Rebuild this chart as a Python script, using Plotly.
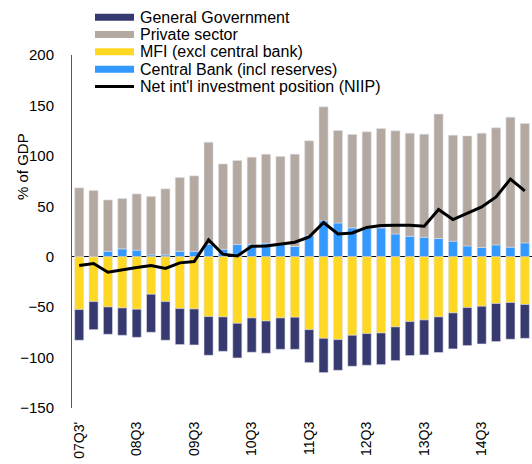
import plotly.graph_objects as go

# ---- data ----
quarters = []
for y in range(7, 16):
    for q in range(1, 5):
        quarters.append(f"{y:02d}Q{q}")
quarters = quarters[2:34]  # 07Q3 .. 15Q2

central_bank = [0, 0, 5.4, 7.8, 6.5, 1.8, 1.8, 5.4, 5.4, 12.1, 7.4, 12.1, 12.4, 13.4, 12.4, 10.1,
                21.3, 35.5, 33.5, 28.6, 28.0, 28.6, 22.6, 20.3, 19.3, 18.0, 15.4, 10.7, 9.1, 11.7, 9.4, 13.7]
private_sector = [68.3, 65.7, 50.9, 49.9, 55.8, 58.0, 65.5, 73.2, 74.8, 101.5, 84.6, 83.3, 86.3, 88.3, 87.0, 91.6,
                  93.6, 113.1, 91.7, 92.6, 95.8, 98.6, 102.2, 102.2, 102.2, 123.4, 105.1, 109.1, 113.4, 116.1, 129.0, 118.4]
mfi = [-52.4, -44.5, -49.8, -50.8, -52.1, -37.2, -44.5, -51.4, -51.8, -59.4, -59.7, -66.0, -60.7, -63.7, -60.7, -60.0,
       -72.3, -80.9, -82.2, -77.9, -76.2, -75.6, -69.6, -64.3, -62.7, -59.7, -55.7, -50.4, -49.1, -46.4, -45.4, -47.4]
general_gov = [-30.4, -27.8, -27.1, -27.1, -27.8, -37.7, -38.3, -35.7, -35.7, -38.3, -34.1, -34.4, -34.0, -32.0, -31.1, -31.8,
               -32.7, -34.0, -30.4, -30.7, -31.4, -31.4, -33.4, -33.7, -34.7, -35.3, -35.7, -37.7, -37.4, -37.7, -36.4, -33.5]
niip = [-8.8, -6.8, -15.4, -12.7, -10.7, -8.8, -11.7, -6.1, -4.8, 16.7, 2.5, 0.8, 10.4, 10.7, 12.7, 14.4,
        19.7, 33.9, 22.6, 23.6, 29.0, 31.0, 31.2, 31.2, 30.3, 46.8, 36.9, 43.5, 49.4, 59.3, 76.9, 65.3]

tick_vals = quarters[0::4]
tick_text = ["07Q3'", "08Q3", "09Q3", "10Q3", "11Q3", "12Q3", "13Q3", "14Q3"]

legend_names = ["General Government", "Private sector", "MFI (excl central bank)",
                "Central Bank (incl reserves)", "Net int'l investment position (NIIP)"]

C_GG = "#363A70"
C_PS = "#B3A9A1"
C_MFI = "#FFD824"
C_CB = "#3399FF"
C_NIIP = "#000000"

FONT = "Liberation Sans, Arial, sans-serif"

fig = go.Figure()
edge = dict(color="rgba(225,225,235,0.9)", width=0.6)
fig.add_trace(go.Bar(x=quarters, y=central_bank, marker=dict(color=C_CB, line=edge), name=legend_names[3], showlegend=False))
fig.add_trace(go.Bar(x=quarters, y=mfi, marker=dict(color=C_MFI, line=edge), name=legend_names[2], showlegend=False))
fig.add_trace(go.Bar(x=quarters, y=private_sector, marker=dict(color=C_PS, line=edge), name=legend_names[1], showlegend=False))
fig.add_trace(go.Bar(x=quarters, y=general_gov, marker=dict(color=C_GG, line=edge), name=legend_names[0], showlegend=False))
fig.add_trace(go.Scatter(x=quarters, y=niip, mode="lines", line=dict(color=C_NIIP, width=3),
                         name=legend_names[4], showlegend=False))

W, H = 532, 464
ML, MR, MT, MB = 72, 0, 55, 56
PW, PH = W - ML - MR, H - MT - MB

def px_x(px):
    return (px - ML) / PW

def px_y(py):
    return (H - MB - py) / PH

shapes = []
annotations = []
colors = [C_GG, C_PS, C_MFI, C_CB, C_NIIP]
centers = [17.3, 34.5, 51.8, 69.2, 86.5]
for name, col, cy in zip(legend_names, colors, centers):
    if col == C_NIIP:
        shapes.append(dict(type="line", xref="paper", yref="paper",
                           x0=px_x(95), x1=px_x(134), y0=px_y(cy), y1=px_y(cy),
                           line=dict(color=col, width=3)))
    else:
        shapes.append(dict(type="rect", xref="paper", yref="paper",
                           x0=px_x(95), x1=px_x(134), y0=px_y(cy + 3.5), y1=px_y(cy - 3.5),
                           fillcolor=col, line=dict(width=0)))
    annotations.append(dict(text=name, xref="paper", yref="paper", x=px_x(137.5), y=px_y(cy),
                            xanchor="left", yanchor="middle", showarrow=False,
                            font=dict(family=FONT, size=16, color="#000000")))

annotations.append(dict(text="% of GDP", xref="paper", yref="paper", x=px_x(22), y=px_y(167),
                        xanchor="center", yanchor="middle", textangle=-90, showarrow=False,
                        font=dict(family=FONT, size=15, color="#000000")))

fig.update_layout(
    width=W, height=H,
    margin=dict(l=ML, r=MR, t=MT, b=MB, pad=0),
    paper_bgcolor="white", plot_bgcolor="white",
    barmode="relative", bargap=0.37,
    font=dict(family=FONT, color="#000000"),
    shapes=shapes, annotations=annotations,
)
fig.update_xaxes(type="category", tickmode="array", tickvals=tick_vals, ticktext=tick_text,
                 tickangle=-90, showline=False, showgrid=False, zeroline=False, ticks="",
                 tickfont=dict(family=FONT, size=14, color="#000000"), ticklabelstandoff=10,
                 range=[-0.5, len(quarters) - 0.5])
fig.update_yaxes(range=[-150, 200], dtick=50, showgrid=False, showline=True, linecolor="#595959",
                 linewidth=1, zeroline=True, zerolinecolor="#000000", zerolinewidth=1, ticks="",
                 tickfont=dict(family=FONT, size=15, color="#000000"), ticklabelstandoff=14)

fig.write_html("out.html", config={"displayModeBar": False},
               post_script="document.body.style.margin='0px';")
